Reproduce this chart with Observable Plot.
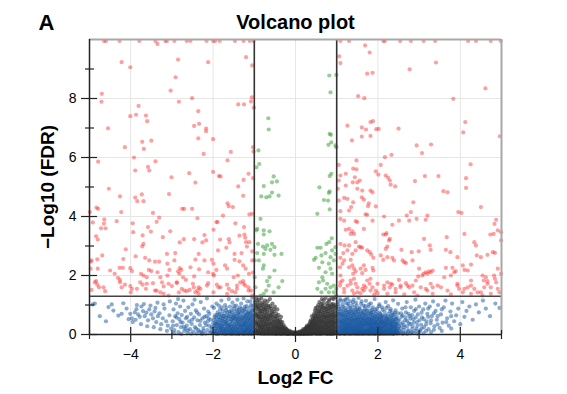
<!DOCTYPE html>
<html><head><meta charset="utf-8">
<script src="https://cdn.jsdelivr.net/npm/d3@7"></script>
<script src="https://cdn.jsdelivr.net/npm/@observablehq/plot@0.6"></script>
<style>body{margin:0;background:#fff;} #chart svg{font-family:"Liberation Sans",Arial,sans-serif;}</style>
</head><body><div id="chart"></div>
<script>
const xTicksMajor = [-4, -2, 0, 2, 4];
const xTicksMinor = [-5, -3, -1, 1, 3, 5];
const yTicksMajor = [0, 2, 4, 6, 8];
const yTicksMinor = [1, 3, 5, 7, 9];
const fcCutoff = [-1, 1];
const fdrCutoff = [1.3];
const titleText = "Volcano plot";
const panelLabel = "A";
const xLabel = "Log2 FC";
const yLabel = "\u2212Log10 (FDR)";

// significant & |log2FC| > 1  (x, y pairs)
const sigRed = [
-4.65,9.95,-4.60,9.95,-4.27,9.95,-3.79,9.95,-3.40,9.95,-3.35,9.85,-3.16,9.95,-3.12,9.95,-2.94,9.95,-2.64,9.95,-2.55,9.95,-2.16,9.95,-2.00,9.95,-1.95,9.95,-1.84,9.95,-1.47,9.95,-1.26,9.95,-1.11,9.95,-1.02,9.95,
1.09,9.95,1.30,9.95,2.13,9.95,2.17,9.95,2.54,9.95,2.80,9.95,3.11,9.95,3.39,9.95,4.19,9.95,4.38,9.95,4.74,9.95,4.98,9.95,
-4.22,9.23,-4.01,9.06,-2.85,9.32,-2.12,9.23,-1.20,9.40,-1.05,9.12,-2.91,8.72,-3.03,8.27,-4.70,8.16,-4.71,7.89,-2.83,7.89,-2.51,8.01,-3.81,7.75,-4.01,7.40,-3.87,7.45,-3.63,7.42,-3.60,7.23,-4.55,6.99,-2.36,7.57,-2.34,7.14,-2.46,7.07,-2.17,6.98,-2.17,6.89,-2.36,6.65,-2.00,6.62,-3.72,6.53,-3.50,6.57,-4.14,6.35,-3.68,6.29,-3.92,6.00,-2.23,6.12,-3.40,5.87,-4.79,5.86,-1.65,5.90,-1.57,6.19,-1.39,7.80,-1.25,7.80,-1.08,7.90,-1.06,8.04,-1.01,7.69,-1.03,6.35,-1.02,6.20,
-3.58,5.68,-3.55,5.56,-3.89,5.56,-3.01,5.33,-2.58,5.47,-2.43,5.15,-2.00,5.51,-1.86,5.37,-1.82,5.36,-1.26,5.24,-1.14,5.45,-1.39,5.02,-4.53,4.94,-4.26,4.68,-3.73,4.75,-3.89,4.64,-3.84,4.52,-3.69,4.52,-3.07,4.76,-1.27,4.70,-1.65,4.45,-1.62,4.35,-1.52,4.32,-4.79,4.26,-4.23,4.15,-3.46,4.12,-2.75,4.26,-2.70,4.26,-2.51,4.26,-1.76,4.03,-1.12,4.07,-4.99,4.15,-4.92,3.80,-4.64,3.90,-4.65,3.76,-4.34,3.84,-3.95,3.77,-3.31,3.96,-3.37,3.82,-2.38,3.94,-1.92,3.81,-1.89,3.81,-1.46,3.77,-1.25,3.64,-4.72,3.60,-4.61,3.60,-4.84,3.33,-4.80,3.22,-3.58,3.64,-3.51,3.49,-3.94,3.47,-3.71,3.36,-3.69,3.07,-3.72,2.99,-3.22,3.30,-3.04,3.50,-2.81,3.12,-2.71,3.23,-2.46,3.23,-2.21,3.37,-2.26,3.12,-2.17,3.19,-1.99,3.55,-1.83,3.22,-1.62,3.23,-1.60,3.12,-1.36,3.35,-1.24,3.39,-1.22,3.28,-1.20,3.13,-1.18,2.98,-1.12,3.13,-1.05,2.82,
-4.12,2.89,-4.18,2.56,-4.69,2.68,-4.81,2.55,-4.95,2.51,-3.88,2.65,-3.65,2.60,-3.55,2.51,-3.41,2.47,-3.31,2.47,-3.12,2.73,-2.92,2.76,-3.11,2.40,-3.06,2.19,-2.94,2.51,-2.81,2.25,-2.77,2.19,-2.55,2.28,-2.43,2.54,-2.35,2.73,-2.21,2.51,-2.03,2.53,-1.99,2.40,-1.88,2.85,-1.68,2.94,-1.48,2.73,-1.31,2.76,-1.92,2.19,-1.71,2.34,-1.66,2.23,-1.48,2.53,-1.36,2.48,-1.27,2.34,-1.21,2.23,-1.05,2.51,-4.50,2.17,-4.39,2.06,-4.27,2.26,-4.19,2.26,-4.01,2.25,-3.97,2.15,-3.75,2.06,-3.69,2.00,-3.61,1.94,-3.56,2.19,-3.50,2.15,-3.35,2.11,-3.28,1.94,-3.11,2.00,-2.85,2.14,-2.82,2.06,-2.73,1.94,-2.66,1.85,-2.46,1.97,-2.34,2.21,-2.12,2.11,-2.00,2.06,-1.98,2.00,-1.50,1.94,-1.40,2.00,-1.13,2.06,-1.03,2.10,
-4.84,1.81,-4.81,1.69,-4.77,1.60,-4.66,1.60,-4.62,1.47,-4.31,1.92,-4.26,1.85,-4.22,1.60,-4.14,1.69,-4.01,1.64,-3.97,1.55,-3.77,1.77,-3.71,1.69,-3.63,1.55,-3.46,1.74,-3.24,1.77,-3.20,1.63,-3.08,1.72,-3.00,1.64,-2.88,1.75,-2.76,1.55,-2.70,1.49,-2.64,1.47,-2.57,1.51,-2.49,1.72,-2.35,1.60,-2.31,1.55,-2.12,1.74,-1.91,1.69,-1.87,1.60,-1.66,1.69,-1.62,1.55,-1.42,1.66,-1.34,1.77,-1.27,1.81,-1.22,1.66,-1.14,1.60,-1.08,1.49,-4.95,1.51,-4.00,1.43,-3.41,1.49,-3.28,1.43,-2.83,1.43,-2.43,1.43,-2.38,1.49,-1.54,1.47,-1.46,1.43,-4.83,4.30,-4.97,2.47,-4.97,2.23,-4.80,2.23,
-4.87,1.77,-4.26,1.77,-3.85,1.55,-3.61,1.72,-3.37,1.49,-3.20,1.38,-3.08,1.32,-2.88,1.77,-2.47,1.60,-2.35,1.38,-2.15,1.66,-1.99,1.43,-1.82,1.60,-1.66,1.38,-1.42,1.55,-1.26,1.72,-1.14,1.49,-1.05,1.32,-1.03,5.30,-1.05,4.09,
1.06,9.43,1.09,9.20,1.26,7.08,1.05,5.75,1.69,9.80,1.80,9.56,3.41,9.22,2.77,8.99,1.74,8.84,1.87,8.87,4.61,8.34,1.52,8.08,1.67,8.01,3.83,7.99,4.12,7.20,1.82,7.20,1.88,7.23,1.61,7.02,1.71,6.95,1.96,6.96,2.02,6.97,2.50,6.98,4.07,6.85,4.96,6.72,1.37,6.58,1.61,6.71,1.82,6.73,2.94,6.41,3.29,6.44,3.07,6.15,2.33,6.09,2.17,6.01,1.48,5.90,2.07,5.75,4.25,5.77,1.40,5.62,1.48,5.60,
1.09,5.39,1.05,5.22,1.22,5.05,1.03,4.94,1.22,5.45,1.44,5.33,1.95,5.53,2.01,5.42,2.19,5.39,2.25,5.31,2.29,5.22,2.31,5.08,2.42,5.02,2.90,5.20,3.14,5.37,3.47,5.37,4.14,5.30,4.14,4.97,1.39,5.16,1.50,5.16,1.56,5.22,1.50,4.94,1.62,4.88,1.82,4.88,1.87,4.82,3.59,4.86,3.69,4.82,1.05,4.54,1.18,4.63,1.26,4.60,1.61,4.65,1.66,4.57,1.40,4.48,1.35,4.32,1.30,4.20,1.78,4.45,1.76,4.35,1.95,4.34,2.86,4.48,1.09,4.18,1.70,4.07,1.74,4.06,2.15,4.00,2.70,4.03,2.80,4.15,2.76,3.86,2.94,3.92,3.20,4.03,3.16,3.89,3.95,4.15,4.03,4.12,4.50,4.32,4.87,3.89,4.83,3.75,
1.09,3.92,1.18,3.86,1.46,3.84,1.50,3.81,1.22,3.55,1.30,3.58,1.38,3.50,1.42,3.41,1.34,3.41,1.66,3.58,1.87,3.86,2.21,3.44,2.19,3.39,2.13,3.39,2.29,3.24,2.27,3.19,2.35,3.72,2.51,3.86,3.12,3.24,3.67,3.30,4.10,3.41,4.73,3.39,4.81,3.41,4.91,3.53,4.99,3.47,4.34,3.13,4.38,3.02,4.99,3.19,1.09,3.07,1.19,3.02,1.30,3.02,1.46,3.13,1.54,2.98,1.58,2.96,1.62,2.94,1.46,2.85,1.38,2.73,1.26,2.85,1.16,2.76,1.74,2.85,1.80,2.79,1.84,2.71,1.89,2.60,2.19,2.90,2.23,2.98,2.57,2.87,2.82,2.79,2.99,2.82,3.26,3.02,3.28,2.87,3.65,2.87,3.76,2.79,3.93,2.62,4.40,2.68,4.50,2.62,4.66,2.70,4.79,2.79,4.84,2.77,
1.09,2.60,1.18,2.51,1.14,2.40,1.08,2.28,1.34,2.53,1.30,2.28,1.38,2.34,1.42,2.23,1.46,2.14,1.40,2.06,1.58,2.23,1.62,2.08,1.66,2.34,1.70,2.19,1.87,2.26,1.89,2.17,2.07,2.68,2.13,2.53,2.23,2.62,2.35,2.60,2.39,2.51,2.60,2.51,2.64,2.45,2.68,2.42,2.84,2.51,3.00,2.23,3.11,2.06,3.16,2.11,3.24,2.14,3.33,2.17,3.65,2.26,3.81,2.26,3.85,2.11,3.89,2.15,4.06,2.34,4.10,2.19,4.18,2.17,4.26,2.37,4.54,2.00,4.62,1.94,4.66,1.81,4.82,2.00,4.84,1.89,4.91,2.23,4.99,2.06,
1.09,2.00,1.14,1.83,1.08,1.66,1.18,1.55,1.26,1.66,1.34,1.83,1.42,1.89,1.46,1.72,1.38,1.49,1.50,1.43,1.62,1.55,1.66,1.49,1.70,1.60,1.74,1.83,1.80,1.72,1.87,1.60,1.82,1.89,1.95,1.49,1.99,1.40,2.15,1.66,2.23,1.77,2.29,1.60,2.35,1.69,2.43,1.55,2.51,1.85,2.55,1.66,2.68,1.74,2.76,1.60,2.84,1.66,2.92,1.83,2.98,1.97,3.08,2.00,3.20,2.06,3.28,2.11,3.16,1.55,3.33,1.60,3.53,1.60,3.61,1.94,3.77,2.00,3.93,1.66,3.97,1.55,4.06,1.43,4.18,1.60,4.26,1.83,4.34,1.55,4.50,1.43,4.57,1.83,4.66,1.72,4.74,1.60,4.87,1.77,4.95,1.43,
1.09,1.77,1.34,1.72,1.50,1.60,1.66,1.66,1.82,1.49,1.99,1.72,2.15,1.55,2.31,1.72,2.43,1.43,2.55,1.60,2.72,1.66,2.88,1.43,3.04,1.60,3.20,1.49,3.33,1.38,3.45,1.66,3.69,1.49,3.93,1.72,4.10,1.55,4.26,1.66,4.42,1.43,4.58,1.60,4.74,1.38,4.91,1.55,1.18,1.43,1.42,1.38,1.58,1.40,1.91,1.36,2.23,1.38,2.64,1.36,2.96,1.32,3.28,1.72,3.77,1.36,4.26,1.38,4.54,1.32
];

// significant but |log2FC| < 1
const sigGreen = [
0.82,8.78,0.99,8.80,0.85,8.21,-0.66,7.33,-0.65,6.95,0.83,6.80,0.86,6.77,0.87,6.51,0.80,6.43,0.97,6.41,0.99,6.35,-0.90,6.24,-0.88,5.78,-0.95,5.67,-0.53,5.36,-0.57,5.16,-0.45,5.19,-0.77,5.03,-0.83,4.68,-0.71,4.65,-0.63,4.68,-0.57,4.81,-0.41,4.71,0.83,5.37,0.87,5.45,0.58,4.99,0.83,4.85,0.81,4.80,0.69,4.56,0.79,4.54,0.83,4.24,0.53,4.09,
-0.85,3.92,-0.93,3.58,-0.95,3.53,-0.77,3.53,-0.63,3.50,-0.77,3.39,-0.91,3.07,-0.79,2.98,-0.73,2.90,-0.69,3.02,-0.57,3.07,-0.51,2.96,-0.61,2.87,-0.34,2.73,-0.51,2.70,-0.77,2.73,-0.93,2.76,-0.89,2.51,-0.77,2.34,-0.79,2.23,-0.51,2.17,-0.63,1.94,-0.69,1.81,-0.32,1.81,-0.41,1.60,-0.65,1.66,-0.71,1.49,-0.53,1.43,-0.77,1.38,-0.85,1.32,-0.97,1.60,-0.99,1.94,-0.99,2.51,
0.88,3.26,0.82,3.13,0.75,3.07,0.61,2.94,0.53,2.94,0.89,2.85,0.73,2.76,0.85,2.62,0.63,2.68,0.49,2.60,0.45,2.53,0.97,2.96,0.97,2.73,0.93,2.51,0.81,2.40,0.65,2.45,0.57,2.26,0.85,2.23,0.89,2.06,0.73,2.11,0.65,1.94,0.67,1.83,0.57,1.77,0.77,1.72,0.85,1.60,0.93,1.66,0.73,1.55,0.53,1.55,0.81,1.43,0.63,1.43,0.93,1.43,0.99,1.55,0.99,1.32
];

// |log2FC| > 1 but not significant: columns [x, [y...]]
const fcBlueCols = [
[-4.92,[1.02]],[-4.87,[1.05]],[-4.75,[0.62]],[-4.60,[0.45]],[-4.54,[0.93]],[-4.46,[1.02]],[-4.42,[0.81]],[-4.30,[0.64]],[-4.22,[0.70]],[-4.18,[1.06]],[-4.10,[0.88]],[-4.05,[0.52]],
[-4.01,[0.70]],[-3.97,[0.55]],[-3.95,[0.42]],[-3.90,[0.75]],[-3.88,[0.50]],[-3.86,[0.86]],[-3.85,[1.00]],[-3.82,[0.68]],[-3.78,[0.60]],[-3.75,[0.35]],[-3.74,[0.95]],[-3.70,[0.79]],[-3.68,[1.03]],[-3.66,[0.62]],[-3.62,[0.74]],[-3.60,[0.28]],[-3.58,[0.48]],[-3.55,[0.85]],[-3.52,[0.98]],[-3.50,[0.68]],[-3.46,[0.55]],[-3.44,[0.25]],[-3.42,[0.78]],[-3.40,[0.90]],[-3.38,[0.42]],[-3.35,[1.08]],[-3.34,[0.62]],[-3.30,[0.72]],[-3.28,[0.18]],[-3.26,[0.35]],[-3.22,[0.55]],[-3.20,[1.02]],[-3.18,[0.88]],[-3.14,[0.45]],[-3.12,[0.12]],[-3.10,[0.30]],[-3.06,[0.65]],[-3.05,[1.12]],[-3.02,[0.20]],
[-2.98,[0.45]],[-2.96,[0.85]],[-2.95,[0.05]],[-2.94,[0.15]],[-2.92,[0.62]],[-2.90,[1.05]],[-2.88,[0.32]],[-2.86,[0.72]],[-2.85,[1.20]],[-2.84,[0.08]],[-2.82,[0.52]],[-2.80,[0.95]],[-2.78,[0.25]],[-2.77,[0.02]],[-2.76,[0.66]],[-2.74,[0.40]],[-2.72,[1.15]],[-2.70,[0.12]],[-2.68,[0.80]],[-2.67,[0.20]],[-2.66,[0.55]],[-2.64,[0.30]],[-2.63,[0.60]],[-2.62,[0.05]],[-2.60,[0.92]],[-2.58,[0.45]],[-2.56,[0.18]],[-2.54,[0.70]],[-2.53,[0.03]],[-2.52,[0.36]],[-2.50,[1.02]],[-2.48,[0.10]],[-2.46,[0.58]],[-2.45,[1.18]],[-2.44,[0.25]],[-2.42,[0.82]],[-2.40,[0.04]],[-2.39,[0.75]],[-2.38,[0.48]],[-2.36,[0.15]],[-2.34,[0.68]],[-2.33,[0.10]],[-2.32,[0.32]],[-2.30,[1.10]],[-2.28,[0.08]],[-2.27,[0.02]],[-2.26,[0.55]],[-2.24,[0.22]],[-2.22,[0.88]],[-2.21,[0.60]],[-2.20,[0.40]],[-2.18,[0.03]],[-2.16,[0.62]],[-2.15,[1.22]],[-2.14,[0.15]],[-2.13,[0.45]],[-2.12,[0.78]],[-2.10,[0.30]],[-2.09,[0.70]],[-2.08,[0.06]],[-2.06,[0.50]],[-2.05,[0.10]],[-2.04,[0.20]],[-2.02,[0.95]],[-2.00,[0.38]],
[-2.97,[0.30]],[-2.89,[0.58]],[-2.79,[0.42]],[-2.71,[0.26]],[-2.61,[0.14]],[-2.51,[0.50]],[-2.41,[0.20]],[-2.31,[0.46]],[-2.23,[0.12]],[-2.17,[0.32]],[-2.11,[0.55]],[-2.03,[0.26]],[-2.01,[0.06]],
[-1.98,[0.05,0.22,0.48,0.90]],[-1.95,[0.12,0.35,0.65]],[-1.92,[0.02,0.28,0.55,1.05]],[-1.89,[0.18,0.42,0.75]],[-1.86,[0.06,0.32,0.60,0.98]],[-1.83,[0.14,0.25,0.50,0.85]],[-1.80,[0.03,0.20,0.40,0.68,1.15]],[-1.77,[0.10,0.30,0.55,0.80]],[-1.74,[0.05,0.18,0.45,0.62]],[-1.71,[0.12,0.35,0.72,1.00]],[-1.68,[0.02,0.22,0.40,0.58,0.90]],[-1.65,[0.08,0.28,0.48,0.76]],[-1.62,[0.15,0.33,0.62,1.20]],[-1.59,[0.04,0.20,0.44,0.70,0.95]],[-1.56,[0.10,0.26,0.52,0.82]],[-1.53,[0.02,0.16,0.38,0.60,1.08]],[-1.50,[0.07,0.24,0.46,0.68,0.88]],[-1.47,[0.12,0.30,0.55,0.78]],[-1.44,[0.03,0.18,0.40,0.62,0.98]],[-1.41,[0.09,0.26,0.48,0.72,1.18]],[-1.38,[0.02,0.14,0.34,0.56,0.84]],[-1.35,[0.06,0.22,0.42,0.66,0.92]],[-1.32,[0.11,0.28,0.50,0.74,1.05]],[-1.29,[0.03,0.17,0.36,0.58,0.80]],[-1.26,[0.08,0.24,0.45,0.68,1.22]],[-1.23,[0.02,0.13,0.32,0.52,0.76,0.95]],[-1.20,[0.06,0.20,0.40,0.62,0.86]],[-1.17,[0.10,0.27,0.48,0.70,1.12]],[-1.14,[0.03,0.16,0.35,0.56,0.78]],[-1.11,[0.07,0.22,0.42,0.64,0.90]],[-1.08,[0.02,0.12,0.30,0.50,0.72,1.00]],[-1.05,[0.05,0.18,0.38,0.58,0.82,1.25]],[-1.02,[0.09,0.25,0.46,0.66,0.88]],
[-1.965,[0.10,0.30,0.58]],[-1.935,[0.04,0.20,0.42]],[-1.905,[0.12,0.36,0.66]],[-1.875,[0.02,0.24,0.50]],[-1.845,[0.08,0.38,0.70]],[-1.815,[0.15,0.30,0.58]],[-1.785,[0.04,0.22,0.46,0.92]],[-1.755,[0.12,0.34,0.62]],[-1.725,[0.02,0.26,0.52]],[-1.695,[0.08,0.18,0.44,0.82]],[-1.665,[0.14,0.36,0.64]],[-1.635,[0.03,0.24,0.54]],[-1.605,[0.09,0.30,0.78]],[-1.575,[0.02,0.16,0.36,0.60]],[-1.545,[0.12,0.28,0.48,0.74]],[-1.515,[0.04,0.20,0.56]],[-1.485,[0.10,0.34,0.64,0.96]],[-1.455,[0.02,0.24,0.50]],[-1.425,[0.14,0.36,0.58,0.84]],[-1.395,[0.06,0.20,0.44,0.70]],[-1.365,[0.02,0.30,0.52,0.78]],[-1.335,[0.16,0.36,0.60]],[-1.305,[0.06,0.24,0.46,0.88]],[-1.275,[0.02,0.14,0.32,0.54]],[-1.245,[0.10,0.28,0.40,0.62,0.84]],[-1.215,[0.04,0.16,0.36,0.56]],[-1.185,[0.12,0.24,0.44,0.66,0.96]],[-1.155,[0.02,0.20,0.30,0.52,0.74]],[-1.125,[0.08,0.14,0.36,0.58]],[-1.095,[0.04,0.26,0.46,0.68,1.12]],[-1.065,[0.10,0.20,0.34,0.54,0.78]],[-1.035,[0.02,0.14,0.30,0.42,0.62,0.98]],
[1.02,[0.04,0.18,0.36,0.58,0.82,1.10]],[1.05,[0.10,0.26,0.46,0.70,0.95]],[1.08,[0.02,0.15,0.32,0.52,0.76,1.20]],[1.11,[0.07,0.22,0.40,0.62,0.88]],[1.14,[0.03,0.13,0.30,0.48,0.68,1.02]],[1.17,[0.09,0.20,0.38,0.56,0.80,1.15]],[1.20,[0.02,0.15,0.28,0.44,0.64,0.90]],[1.23,[0.06,0.22,0.34,0.52,0.74,1.06]],[1.26,[0.11,0.18,0.40,0.60,0.84,1.22]],[1.29,[0.03,0.14,0.30,0.47,0.68,0.96]],[1.32,[0.08,0.24,0.37,0.55,0.78,1.12]],[1.35,[0.02,0.16,0.28,0.43,0.62,0.86]],[1.38,[0.05,0.12,0.33,0.50,0.72,1.00]],[1.41,[0.09,0.21,0.39,0.58,0.80,1.18]],[1.44,[0.03,0.15,0.27,0.46,0.66,0.92]],[1.47,[0.07,0.19,0.35,0.53,0.76,1.08]],[1.50,[0.02,0.11,0.25,0.42,0.60,0.84]],[1.53,[0.06,0.17,0.31,0.49,0.70,1.24]],[1.56,[0.04,0.13,0.28,0.44,0.64,0.90]],[1.59,[0.08,0.21,0.37,0.55,0.78,1.04]],[1.62,[0.02,0.15,0.26,0.47,0.68]],[1.65,[0.05,0.10,0.33,0.52,0.74,0.98]],[1.68,[0.09,0.22,0.40,0.58,0.86]],[1.71,[0.03,0.14,0.29,0.45,0.66,1.14]],[1.74,[0.07,0.18,0.36,0.54,0.80]],[1.77,[0.02,0.12,0.26,0.42,0.62,0.94]],[1.80,[0.05,0.20,0.34,0.50,0.72]],[1.83,[0.09,0.16,0.30,0.46,0.68,1.06]],[1.86,[0.03,0.13,0.24,0.40,0.58,0.84]],[1.89,[0.06,0.19,0.35,0.52,0.76]],[1.92,[0.02,0.11,0.28,0.44,0.64,1.20]],[1.95,[0.08,0.16,0.32,0.48,0.70]],[1.98,[0.04,0.22,0.38,0.56,0.88]],[2.01,[0.07,0.13,0.27,0.43,0.62]],[2.04,[0.02,0.18,0.34,0.50,0.74,1.02]],[2.07,[0.05,0.10,0.24,0.40,0.58]],[2.10,[0.09,0.20,0.30,0.46,0.66,0.92]],[2.13,[0.03,0.15,0.36,0.54]],[2.16,[0.06,0.12,0.26,0.42,0.78]],[2.19,[0.02,0.19,0.32,0.48,0.62,1.10]],[2.22,[0.08,0.14,0.28,0.38,0.56]],[2.25,[0.04,0.22,0.44,0.70,0.96]],[2.28,[0.10,0.17,0.34,0.52]],[2.31,[0.03,0.13,0.25,0.40,0.64,0.86]],[2.34,[0.07,0.20,0.30,0.48,0.74]],[2.37,[0.02,0.15,0.36,0.58,1.16]],[2.40,[0.05,0.11,0.26,0.44,0.68]],[2.43,[0.09,0.19,0.32,0.52,0.82]],[2.46,[0.03,0.14,0.38,0.60]],[2.49,[0.06,0.22,0.46,0.72,1.04]],
[1.035,[0.08,0.28,0.48,0.70,1.02]],[1.065,[0.02,0.18,0.38,0.60,0.86]],[1.095,[0.10,0.26,0.44,0.68,1.14]],[1.125,[0.04,0.18,0.36,0.54,0.78]],[1.155,[0.12,0.26,0.44,0.64,0.94]],[1.185,[0.02,0.16,0.32,0.50,0.72]],[1.215,[0.08,0.22,0.38,0.58,0.82,1.18]],[1.245,[0.03,0.14,0.28,0.46,0.66]],[1.275,[0.06,0.24,0.36,0.54,0.76,1.04]],[1.305,[0.02,0.18,0.32,0.50,0.72]],[1.335,[0.10,0.20,0.42,0.62,0.90]],[1.365,[0.04,0.22,0.36,0.54,0.78]],[1.395,[0.08,0.18,0.28,0.46,0.66,1.10]],[1.425,[0.02,0.12,0.32,0.50,0.72]],[1.455,[0.06,0.22,0.40,0.58,0.84]],[1.485,[0.03,0.14,0.30,0.48,0.68,0.98]],[1.515,[0.08,0.20,0.36,0.54,0.78]],[1.545,[0.02,0.10,0.24,0.40,0.58,0.86]],[1.575,[0.06,0.18,0.34,0.50,0.72]],[1.605,[0.03,0.12,0.30,0.42,0.62,1.12]],[1.635,[0.08,0.20,0.36,0.56,0.80]],[1.665,[0.02,0.16,0.28,0.46,0.66]],[1.695,[0.06,0.12,0.34,0.50,0.72,0.96]],[1.725,[0.03,0.20,0.40,0.58,0.82]],[1.755,[0.09,0.14,0.30,0.48,0.70]],[1.785,[0.04,0.18,0.36,0.54,1.02]],[1.815,[0.02,0.10,0.26,0.40,0.60,0.80]],[1.845,[0.06,0.20,0.34,0.52,0.74]],[1.875,[0.03,0.16,0.28,0.46,0.66,0.92]],[1.905,[0.08,0.22,0.38,0.56]],[1.935,[0.02,0.14,0.24,0.40,0.60,0.84]],[1.965,[0.05,0.18,0.36,0.52,0.78]],[1.995,[0.10,0.28,0.44,0.66]],[2.025,[0.03,0.16,0.30,0.54,0.96]],[2.055,[0.07,0.20,0.36,0.50,0.70]],[2.085,[0.02,0.14,0.26,0.42,0.62]],[2.115,[0.06,0.22,0.40,0.58,0.84]],[2.145,[0.03,0.10,0.30,0.48]],[2.175,[0.08,0.24,0.36,0.66]],[2.205,[0.04,0.16,0.42,0.54,0.90]],[2.235,[0.10,0.30,0.50]],[2.265,[0.02,0.18,0.36,0.60]],[2.295,[0.07,0.26,0.46,0.80]],[2.325,[0.04,0.16,0.34,0.56]],[2.355,[0.10,0.28,0.42,0.66]],[2.385,[0.02,0.20,0.50]],[2.415,[0.06,0.24,0.40,0.74]],[2.445,[0.12,0.30,0.54]],[2.475,[0.04,0.18,0.36]],
[2.52,[0.04,0.28,0.50]],[2.56,[0.10,0.22,0.72]],[2.60,[0.02,0.40,0.64]],[2.63,[0.16,0.32]],[2.67,[0.06,0.58,0.92]],[2.71,[0.02,0.28,0.46]],[2.74,[0.10,0.70]],[2.79,[0.04,0.36,0.54]],[2.83,[0.18,0.66]],[2.87,[0.06,0.40]],[2.92,[0.12,0.58,0.86]],[2.96,[0.03,0.30]],[3.01,[0.08,0.48]],[3.06,[0.20,0.74]],[3.11,[0.05,0.52]],[3.17,[0.12,0.34]],[3.22,[0.60,0.88]],[3.29,[0.08,0.48]],[3.36,[0.16,0.72]],[3.45,[0.34,0.62]],[3.55,[0.12,0.85]],[3.66,[0.42]],[3.78,[0.20,0.62]],
[2.53,[0.12]],[2.55,[0.35]],[2.57,[0.60]],[2.59,[0.88]],[2.62,[0.05]],[2.64,[0.25]],[2.66,[0.48]],[2.68,[0.75]],[2.70,[1.10]],[2.73,[0.15]],[2.75,[0.38]],[2.77,[0.62]],[2.80,[0.92]],[2.82,[0.08]],[2.84,[0.28]],[2.86,[0.52]],[2.88,[0.80]],[2.91,[1.18]],[2.93,[0.20]],[2.95,[0.42]],[2.97,[0.68]],[3.00,[0.95]],[3.02,[0.14]],[3.05,[0.33]],[3.07,[0.58]],[3.10,[0.85]],[3.12,[0.25]],[3.15,[1.05]],[3.18,[0.45]],[3.20,[0.70]],[3.23,[0.18]],[3.26,[0.95]],[3.28,[0.38]],[3.31,[0.62]],[3.34,[1.12]],[3.37,[0.28]],[3.40,[0.80]],[3.43,[0.50]],[3.46,[1.00]],[3.50,[0.22]],[3.53,[0.68]],[3.57,[0.40]],[3.60,[0.92]],[3.64,[1.15]],[3.68,[0.55]],[3.72,[0.30]],[3.76,[0.78]],[3.80,[1.05]],[3.85,[0.45]],[3.90,[0.65]],[3.95,[0.88]],[4.00,[0.35]],[4.05,[1.10]],[4.10,[0.60]],[4.15,[0.80]],[4.22,[0.95]],[4.30,[0.50]],[4.38,[1.02]],[4.45,[0.75]],[4.55,[1.15]],[4.62,[0.88]],[4.72,[0.62]],[4.85,[1.05]],[4.95,[0.90]]
];

// not significant, |log2FC| < 1: columns [x, [y...]]
const nsGrayCols = [
[-0.98,[0.05,0.25,0.50,0.80,1.10]],[-0.95,[0.12,0.38,0.65,0.95,1.25]],[-0.92,[0.03,0.20,0.45,0.72,1.02]],[-0.89,[0.10,0.30,0.58,0.86,1.18]],[-0.86,[0.06,0.22,0.42,0.68,0.98]],[-0.83,[0.02,0.15,0.35,0.60,0.90,1.22]],[-0.80,[0.09,0.26,0.50,0.78,1.08]],[-0.77,[0.04,0.18,0.40,0.64,0.94]],[-0.74,[0.11,0.30,0.55,0.84,1.15]],[-0.71,[0.03,0.20,0.44,0.70,1.00]],[-0.68,[0.08,0.25,0.48,0.76,1.12]],[-0.65,[0.02,0.14,0.36,0.62,0.92]],[-0.62,[0.06,0.22,0.52,0.82,1.20]],[-0.59,[0.10,0.30,0.58,0.88]],[-0.56,[0.04,0.18,0.40,0.70,1.05]],[-0.53,[0.08,0.26,0.50,0.78]],[-0.50,[0.02,0.14,0.34,0.62,0.95]],[-0.47,[0.06,0.22,0.44,0.72]],[-0.44,[0.03,0.12,0.30,0.55,0.85]],[-0.41,[0.07,0.20,0.40,0.66]],[-0.38,[0.02,0.10,0.28,0.50]],[-0.35,[0.05,0.16,0.36,0.60]],[-0.32,[0.03,0.12,0.24,0.42]],[-0.29,[0.06,0.18,0.32]],[-0.26,[0.02,0.10,0.25]],[-0.23,[0.05,0.14,0.20]],[-0.20,[0.02,0.08,0.16]],[-0.17,[0.04,0.11]],[-0.14,[0.02,0.07,0.12]],[-0.11,[0.04,0.09]],[-0.08,[0.02,0.06]],[-0.05,[0.03,0.08]],[-0.02,[0.01,0.05]],
[0.01,[0.03,0.07]],[0.04,[0.02,0.05]],[0.07,[0.03,0.08]],[0.10,[0.01,0.05,0.10]],[0.13,[0.03,0.08]],[0.16,[0.02,0.06,0.13]],[0.19,[0.04,0.10,0.18]],[0.22,[0.02,0.07,0.15]],[0.25,[0.05,0.12,0.22]],[0.28,[0.02,0.09,0.18,0.30]],[0.31,[0.05,0.14,0.26]],[0.34,[0.03,0.10,0.22,0.36]],[0.37,[0.06,0.16,0.30,0.48]],[0.40,[0.02,0.12,0.26,0.42,0.62]],[0.43,[0.08,0.20,0.36,0.55]],[0.46,[0.04,0.15,0.30,0.48,0.72]],[0.49,[0.10,0.24,0.40,0.62,0.90]],[0.52,[0.03,0.18,0.34,0.55,0.80]],[0.55,[0.07,0.22,0.44,0.68,1.00]],[0.58,[0.02,0.14,0.30,0.52,0.76,1.10]],[0.61,[0.09,0.26,0.46,0.70,0.95]],[0.64,[0.04,0.18,0.38,0.60,0.86,1.20]],[0.67,[0.11,0.28,0.50,0.74,1.04]],[0.70,[0.03,0.16,0.36,0.58,0.82]],[0.73,[0.08,0.24,0.44,0.66,0.92,1.24]],[0.76,[0.02,0.14,0.32,0.54,0.78,1.06]],[0.79,[0.06,0.22,0.40,0.62,0.88]],[0.82,[0.10,0.28,0.48,0.70,0.98,1.18]],[0.85,[0.03,0.16,0.36,0.58,0.84]],[0.88,[0.07,0.24,0.44,0.66,0.94,1.22]],[0.91,[0.02,0.12,0.32,0.52,0.76,1.04]],[0.94,[0.05,0.20,0.40,0.62,0.90]],[0.97,[0.09,0.28,0.48,0.72,1.00,1.26]],
[-0.965,[0.15,0.40,0.68,1.00]],[-0.935,[0.08,0.32,0.58,0.88,1.15]],[-0.905,[0.14,0.36,0.62,0.92]],[-0.875,[0.04,0.26,0.50,0.78,1.08]],[-0.845,[0.12,0.30,0.54,0.80]],[-0.815,[0.06,0.22,0.44,0.70,1.00]],[-0.785,[0.14,0.34,0.58,0.86]],[-0.755,[0.02,0.24,0.48,0.74,1.04]],[-0.725,[0.10,0.36,0.62,0.90]],[-0.695,[0.04,0.16,0.34,0.58,0.84]],[-0.665,[0.10,0.28,0.52,0.98]],[-0.635,[0.04,0.18,0.40,0.68]],[-0.605,[0.12,0.36,0.64,0.96]],[-0.575,[0.02,0.22,0.46,0.74]],[-0.545,[0.12,0.32,0.60]],[-0.515,[0.04,0.20,0.42,0.86]],[-0.485,[0.10,0.28,0.52]],[-0.455,[0.02,0.18,0.36,0.62]],[-0.425,[0.08,0.24,0.46]],[-0.395,[0.04,0.16,0.36]],[-0.365,[0.08,0.22,0.44]],[-0.335,[0.02,0.14,0.30]],[-0.305,[0.08,0.22]],[-0.275,[0.04,0.14]],[-0.245,[0.08,0.18]],[-0.215,[0.04,0.12]],[-0.185,[0.02,0.08]],[-0.125,[0.05]],[-0.065,[0.04]],[0.025,[0.05]],[0.085,[0.06]],[0.145,[0.05,0.10]],[0.205,[0.02,0.13]],[0.235,[0.09,0.18]],[0.265,[0.04,0.14,0.25]],[0.295,[0.08,0.22]],[0.325,[0.02,0.18,0.30]],[0.355,[0.07,0.14,0.28,0.42]],[0.385,[0.03,0.20,0.36]],[0.415,[0.09,0.18,0.34,0.50]],[0.445,[0.04,0.26,0.44,0.64]],[0.475,[0.08,0.20,0.38,0.56,0.82]],[0.505,[0.02,0.14,0.30,0.48,0.70]],[0.535,[0.10,0.26,0.42,0.62,0.92]],[0.565,[0.04,0.16,0.34,0.56,0.80]],[0.595,[0.08,0.22,0.40,0.62,0.88]],[0.625,[0.02,0.14,0.32,0.52,0.78,1.04]],[0.655,[0.08,0.24,0.44,0.66,0.96]],[0.685,[0.04,0.20,0.40,0.62,0.90,1.16]],[0.715,[0.12,0.30,0.50,0.74]],[0.745,[0.04,0.18,0.38,0.60,0.86]],[0.775,[0.10,0.26,0.46,0.70,0.98]],[0.805,[0.02,0.16,0.34,0.56,0.80,1.12]],[0.835,[0.08,0.22,0.42,0.64,0.92]],[0.865,[0.02,0.12,0.30,0.50,0.74,1.02]],[0.895,[0.06,0.18,0.38,0.60,0.86]],[0.925,[0.10,0.26,0.46,0.68,0.98,1.20]],[0.955,[0.03,0.14,0.34,0.56,0.80]],[0.985,[0.06,0.20,0.40,0.62,0.92]]
];

const pairs = (arr) => { const out = []; for (let i = 0; i + 1 < arr.length; i += 2) out.push({x: arr[i], y: arr[i + 1]}); return out; };
const cols = (c) => c.flatMap(([x, ys]) => ys.map((y) => ({x, y})));

const redPts = pairs(sigRed);
const greenPts = pairs(sigGreen);
const bluePts = cols(fcBlueCols);
const grayPts = cols(nsGrayCols);

const axisColor = "#222";
const font = "'Liberation Sans', Arial, sans-serif";
const dotR = 2.1;

const chart = Plot.plot({
  width: 567, height: 394,
  marginLeft: 89, marginRight: 66, marginTop: 39, marginBottom: 60,
  x: {domain: [-5, 5]},
  y: {domain: [0, 10]},
  style: {fontFamily: font, fontSize: "14px", color: "#000", background: "#fff", overflow: "visible"},
  marks: [
    Plot.ruleX(xTicksMajor, {x: (d) => d, stroke: "#e6e6e6", strokeWidth: 1}),
    Plot.ruleY(yTicksMajor.slice(1), {y: (d) => d, stroke: "#e6e6e6", strokeWidth: 1}),
    Plot.dot(grayPts, {x: "x", y: "y", r: dotR, fill: "#333333", fillOpacity: 0.62, stroke: "none"}),
    Plot.dot(bluePts, {x: "x", y: "y", r: dotR, fill: "#1656a0", fillOpacity: 0.5, stroke: "none"}),
    Plot.dot(greenPts, {x: "x", y: "y", r: dotR, fill: "#2f9a2f", fillOpacity: 0.5, stroke: "none"}),
    Plot.dot(redPts, {x: "x", y: "y", r: dotR, fill: "#ff1a1a", fillOpacity: 0.42, stroke: "none"}),
    Plot.ruleY(fdrCutoff, {y: (d) => d, stroke: "#444", strokeWidth: 1.5}),
    Plot.ruleX(fcCutoff, {x: (d) => d, stroke: "#333", strokeWidth: 1.6}),
    Plot.ruleY([10], {y: (d) => d, stroke: "#a8a8a8", strokeWidth: 2}),
    Plot.ruleX([5], {x: (d) => d, stroke: "#a8a8a8", strokeWidth: 2}),
    Plot.ruleY([0], {y: (d) => d, stroke: axisColor, strokeWidth: 1.5}),
    Plot.ruleX([-5], {x: (d) => d, stroke: axisColor, strokeWidth: 1.5}),
    Plot.ruleX(xTicksMajor, {x: (d) => d, y1: () => 0, y2: () => 0, insetTop: -7, insetBottom: -8, stroke: axisColor, strokeWidth: 1.2}),
    Plot.ruleX(xTicksMinor, {x: (d) => d, y1: () => 0, y2: () => 0, insetTop: -4, insetBottom: -5, stroke: axisColor, strokeWidth: 1.2}),
    Plot.ruleY(yTicksMajor, {y: (d) => d, x1: () => -5, x2: () => -5, insetLeft: -8, insetRight: -8, stroke: axisColor, strokeWidth: 1.2}),
    Plot.ruleY(yTicksMinor, {y: (d) => d, x1: () => -5, x2: () => -5, insetLeft: -4, insetRight: -5, stroke: axisColor, strokeWidth: 1.2}),
    Plot.axisX({ticks: xTicksMajor, tickSize: 0, tickPadding: 15, label: null, fontSize: 14}),
    Plot.axisY({ticks: yTicksMajor, tickSize: 0, tickPadding: 13, label: null, fontSize: 14}),
    Plot.text([titleText], {frameAnchor: "top", dy: -17, lineAnchor: "middle", text: (d) => d, fontWeight: "bold", fontSize: 20}),
    Plot.text([panelLabel], {frameAnchor: "top-left", dx: -51, dy: -17, lineAnchor: "middle", textAnchor: "start", text: (d) => d, fontWeight: "bold", fontSize: 22}),
    Plot.text([xLabel], {frameAnchor: "bottom", dy: 43, lineAnchor: "middle", text: (d) => d, fontWeight: "bold", fontSize: 19}),
    Plot.text([yLabel], {frameAnchor: "left", dx: -42, rotate: -90, textAnchor: "middle", lineAnchor: "middle", text: (d) => d, fontWeight: "bold", fontSize: 19})
  ]
});
document.getElementById("chart").appendChild(chart);
</script>
</body></html>
